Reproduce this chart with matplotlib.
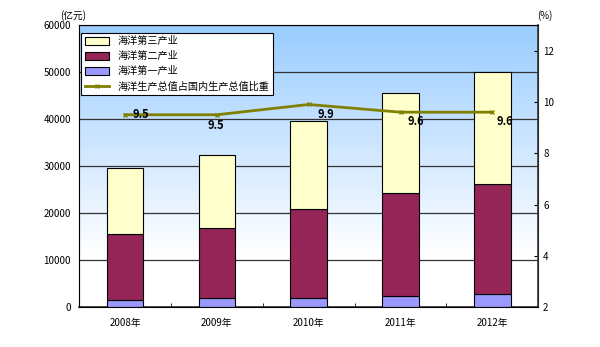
import numpy as np
import matplotlib.pyplot as plt
from matplotlib.colors import LinearSegmentedColormap

plt.rcParams['font.family'] = ['Noto Sans CJK SC', 'DejaVu Sans']

years = ['2008年', '2009年', '2010年', '2011年', '2012年']
primary = [1608, 1858, 2008, 2382, 2683]
secondary = [14026, 15062, 18935, 21835, 23450]
tertiary = [14028, 15357, 18629, 21353, 23954]
ratio = [9.5, 9.5, 9.9, 9.6, 9.6]
ratio_labels = ['9.5', '9.5', '9.9', '9.6', '9.6']

fig = plt.figure(figsize=(6, 3.47), dpi=100)
ax = fig.add_axes([0.132, 0.115, 0.765, 0.813])

# blue-to-white backdrop behind the bars
cmap = LinearSegmentedColormap.from_list('bg', [(0, '#ffffff'), (0.18, '#ffffff'), (1, '#99ccff')])
grad = np.linspace(0, 1, 256).reshape(-1, 1)
ax.imshow(grad, cmap=cmap, aspect='auto', origin='lower',
          extent=[0, 1, 0, 1], transform=ax.transAxes, zorder=0)

x = np.arange(len(years))
w = 0.4
b1 = ax.bar(x, primary, w, color='#9999ff', edgecolor='black', linewidth=0.8, zorder=3)
b2 = ax.bar(x, secondary, w, bottom=primary, color='#952457', edgecolor='black', linewidth=0.8, zorder=3)
bottom3 = np.array(primary) + np.array(secondary)
b3 = ax.bar(x, tertiary, w, bottom=bottom3, color='#ffffcc', edgecolor='black', linewidth=0.8, zorder=3)

ax.set_xlim(-0.5, 4.5)
ax.set_ylim(0, 60000)
ax.set_yticks(np.arange(0, 60001, 10000))
ax.yaxis.grid(True, color='#333333', linewidth=0.9, zorder=1)
ax.set_axisbelow(True)
ax.set_xticks(x)
ax.set_xticklabels(years, fontsize=7)
ax.set_xticks(np.arange(0.5, 4.5, 1), minor=True)
ax.tick_params(axis='x', which='major', length=0, pad=8)
ax.tick_params(axis='x', which='minor', length=3, direction='in')
ax.tick_params(axis='y', labelsize=7, length=0, pad=6)
for s in ['top', 'left']:
    ax.spines[s].set_color('#999999')
ax.spines['bottom'].set_color('#333333')
ax.spines['bottom'].set_linewidth(1.2)

ax2 = ax.twinx()
ln, = ax2.plot(x, ratio, color='#808000', linewidth=2, marker='x', markersize=3.5, zorder=5)
ax2.set_ylim(2, 13)
ax2.set_yticks([2, 4, 6, 8, 10, 12])
ax2.tick_params(axis='y', labelsize=7, direction='in', length=3)
ax2.spines['right'].set_color('#333333')
ax2.spines['right'].set_linewidth(1.2)

offsets = [(0.08, 0.0), (-0.1, -0.4), (0.1, -0.4), (0.08, -0.35), (0.05, -0.35)]
for xi, yi, t, (dx, dy) in zip(x, ratio, ratio_labels, offsets):
    ax2.text(xi + dx, yi + dy, t, fontsize=8, fontweight='bold', va='center', ha='left', zorder=6)

fig.text(0.1, 0.955, '(亿元)', fontsize=7, ha='left', va='center')
fig.text(0.895, 0.955, '(%)', fontsize=7, ha='left', va='center')

leg = ax2.legend([b3, b2, b1, ln],
                 ['海洋第三产业', '海洋第二产业', '海洋第一产业', '海洋生产总值占国内生产总值比重'],
                 loc='upper left', bbox_to_anchor=(0.0, 0.98), fontsize=7.3, frameon=True,
                 fancybox=False, edgecolor='black', framealpha=1, borderpad=0.35,
                 labelspacing=0.5, handlelength=2.4, handleheight=0.8, borderaxespad=0.2)
leg.get_frame().set_linewidth(0.8)

fig.savefig('out.png', dpi=100)
